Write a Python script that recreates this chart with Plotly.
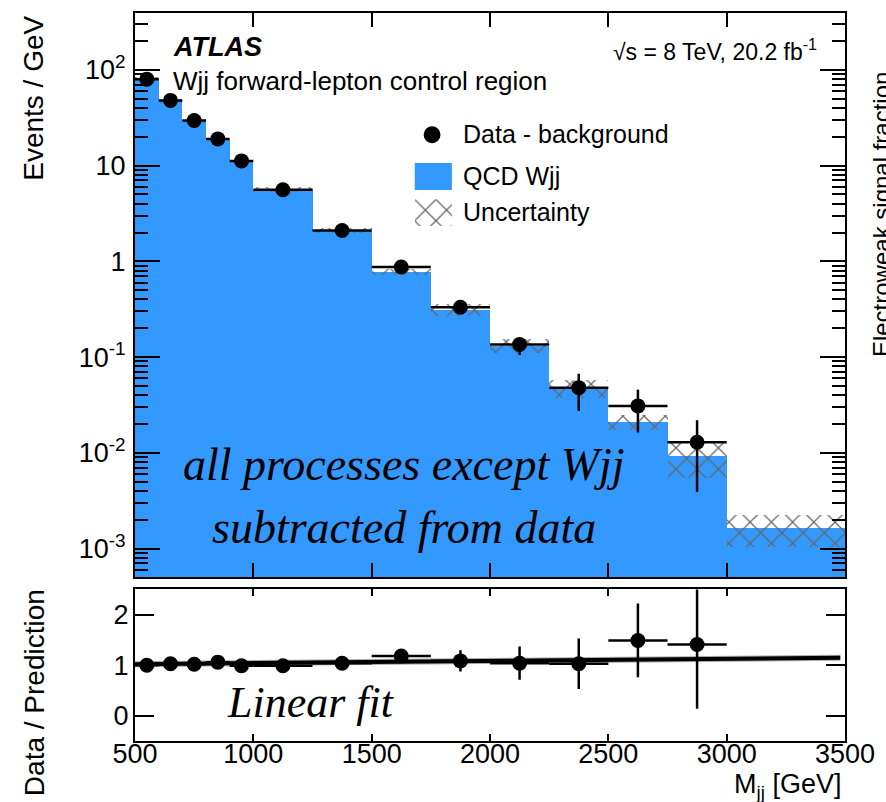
import numpy as np
import plotly.graph_objects as go

# ---------------- data ----------------
bin_edges = [500, 600, 700, 800, 900, 1000, 1250, 1500, 1750, 2000, 2250, 2500, 2750, 3000, 3500]
qcd_wjj = [81, 47.5, 29.9, 18.4, 11.2, 5.58, 2.09, 0.774, 0.314, 0.132, 0.0472, 0.021, 0.0093, 0.00164]
qcd_unc = [4.0, 2.4, 1.5, 0.9, 0.55, 0.33, 0.12, 0.06, 0.043, 0.023, 0.010, 0.0036, 0.0038, 0.0006]
data_sub = [80, 48, 29.6, 19.0, 11.2, 5.6, 2.1, 0.873, 0.332, 0.1355, 0.0479, 0.0309, 0.0129]
data_err_up = [2.0, 1.2, 0.8, 0.6, 0.4, 0.2, 0.12, 0.07, 0.03, 0.0175, 0.019, 0.0148, 0.009]
data_err_dn = [2.0, 1.2, 0.8, 0.6, 0.4, 0.2, 0.12, 0.07, 0.03, 0.0305, 0.0205, 0.0146, 0.009]
ratio = [1.0, 1.03, 1.02, 1.06, 0.99, 0.99, 1.04, 1.18, 1.085, 1.04, 1.03, 1.49, 1.41]
ratio_err = [0.03, 0.03, 0.03, 0.04, 0.04, 0.04, 0.06, 0.08, 0.21, 0.33, 0.50, 0.73, 1.27]
fit_intercept = 0.998
fit_slope = 4.33e-5
fit_range = [500, 3480]
y_tickvals = [1e-3, 1e-2, 1e-1, 1, 10, 100]
y_ticktext = ["10<sup>-3</sup>", "10<sup>-2</sup>", "10<sup>-1</sup>", "1", "10", "10<sup>2</sup>"]
x_tickvals = [500, 1000, 1500, 2000, 2500, 3000, 3500]
r_tickvals = [0, 1, 2]

# ---------------- derived ----------------
edges = np.array(bin_edges, dtype=float)
centers = 0.5 * (edges[:-1] + edges[1:])
widths = edges[1:] - edges[:-1]
nd = len(data_sub)
BASE = 1e-6

W, H = 886, 802
L, R, T, B = 135, 852, 11, 741
PW, PH = R - L, B - T

def px(x):
    return (x - L) / PW

def py(y):
    return (B - y) / PH

FONT = "Liberation Sans, Arial, Helvetica, sans-serif"
SERIF = "Liberation Serif, Times New Roman, serif"
BLUE = "#3399ff"
HATCH = "#666666"

pattern = dict(shape="x", fgcolor=HATCH, fgopacity=1, bgcolor="rgba(0,0,0,0)",
               size=15, solidity=0.16, fillmode="overlay")

fig = go.Figure()

# QCD Wjj histogram
fig.add_trace(go.Bar(
    x=centers, y=np.array(qcd_wjj) - BASE, base=[BASE] * len(qcd_wjj), width=widths,
    marker=dict(color=BLUE, line=dict(width=0)), xaxis="x", yaxis="y", showlegend=False))
# uncertainty band
qw = np.array(qcd_wjj); qu = np.array(qcd_unc)
fig.add_trace(go.Bar(
    x=centers, y=2 * qu, base=qw - qu, width=widths,
    marker=dict(color="rgba(0,0,0,0)", line=dict(width=0), pattern=pattern),
    xaxis="x", yaxis="y", showlegend=False))
# data - background
fig.add_trace(go.Scatter(
    x=centers[:nd], y=data_sub, mode="markers",
    marker=dict(color="black", size=15),
    error_y=dict(type="data", symmetric=False, array=data_err_up, arrayminus=data_err_dn,
                 thickness=2.5, width=0, color="black"),
    error_x=dict(type="data", array=widths[:nd] / 2, thickness=2.5, width=0, color="black"),
    xaxis="x", yaxis="y", showlegend=False))

# ratio panel: fit line
fx = np.array(fit_range, dtype=float)
fig.add_trace(go.Scatter(
    x=fx, y=fit_intercept + fit_slope * fx, mode="lines",
    line=dict(color="rgba(90,90,90,0.5)", width=6),
    xaxis="x2", yaxis="y2", showlegend=False, hoverinfo="skip"))
fig.add_trace(go.Scatter(
    x=fx, y=fit_intercept + fit_slope * fx, mode="lines",
    line=dict(color="black", width=4),
    xaxis="x2", yaxis="y2", showlegend=False))
fig.add_trace(go.Scatter(
    x=centers[:nd], y=ratio, mode="markers",
    marker=dict(color="black", size=15),
    error_y=dict(type="data", array=ratio_err, thickness=2.5, width=0, color="black"),
    error_x=dict(type="data", array=widths[:nd] / 2, thickness=2.5, width=0, color="black"),
    xaxis="x2", yaxis="y2", showlegend=False, cliponaxis=True))

# legend hatch key (own tiny axes)
fig.add_trace(go.Bar(
    x=[0.5], y=[1], width=[1],
    marker=dict(color="rgba(0,0,0,0)", line=dict(width=0), pattern=pattern),
    xaxis="x3", yaxis="y3", showlegend=False, hoverinfo="skip"))

# minor log ticks
minor_vals = [m * 10.0 ** k for k in range(-4, 3) for m in range(2, 10)]

axis_common = dict(showline=True, linewidth=2, linecolor="black", mirror="allticks",
                   ticks="inside", tickwidth=2, tickcolor="black", showgrid=False, zeroline=False,
                   tickfont=dict(family=FONT, size=27, color="black"))

up_dom_bot = py(577)
lo_dom_top = py(589)

fig.update_layout(
    width=W, height=H,
    margin=dict(l=L, r=W - R, t=T, b=H - B),
    paper_bgcolor="white", plot_bgcolor="white",
    barmode="overlay", bargap=0,
    showlegend=False,
    xaxis=dict(axis_common, domain=[0, 1], range=[500, 3500], anchor="y",
               tickmode="array", tickvals=x_tickvals, ticklen=14, showticklabels=False),
    yaxis=dict(axis_common, domain=[up_dom_bot, 1], type="log",
               range=[-3.302, 2.594], anchor="x",
               tickmode="array", tickvals=y_tickvals, ticktext=y_ticktext, ticklen=25,
               ticklabelstandoff=2,
               minor=dict(tickmode="array", tickvals=minor_vals, ticks="inside", ticklen=13,
                          tickwidth=2, tickcolor="black")),
    xaxis2=dict(axis_common, domain=[0, 1], range=[500, 3500], anchor="y2", matches="x",
                tickmode="array", tickvals=x_tickvals, ticklen=7, ticklabelstandoff=-12),
    yaxis2=dict(axis_common, domain=[0, lo_dom_top], range=[-0.5, 2.5], anchor="x2",
                tickmode="array", tickvals=r_tickvals, ticklen=19, ticklabelstandoff=-1),
    xaxis3=dict(domain=[px(417.5), px(455)], range=[0, 1], visible=False, fixedrange=True, anchor="y3"),
    yaxis3=dict(domain=[py(225), py(198)], range=[0, 1], visible=False, fixedrange=True, anchor="x3"),
)

# legend keys
fig.add_shape(type="circle", xref="paper", yref="paper",
              x0=px(435 - 8.5), x1=px(435 + 8.5), y0=py(133 + 8.5), y1=py(133 - 8.5),
              fillcolor="black", line=dict(width=0))
fig.add_shape(type="rect", xref="paper", yref="paper",
              x0=px(417.5), x1=px(455), y0=py(188.5), y1=py(161.5),
              fillcolor=BLUE, line=dict(width=0))

def ann(text, x, y, size, xanchor="left", yanchor="middle", family=FONT, angle=0, **kw):
    fig.add_annotation(text=text, xref="paper", yref="paper", x=px(x), y=py(y),
                       xanchor=xanchor, yanchor=yanchor, showarrow=False, textangle=angle,
                       font=dict(family=family, size=size, color="black"), **kw)

ann("Data - background", 464, 132, 25)
ann("QCD Wjj", 464, 174, 25)
ann("Uncertainty", 464, 211, 25)
ann("<b><i>ATLAS</i></b>", 171, 45, 27)
ann("Wjj forward-lepton control region", 171, 79, 26)
ann("√s = 8 TeV, 20.2 fb<sup>-1</sup>", 826, 48, 23, xanchor="right")
ann("<i>all processes except Wjj</i>", 407, 464, 46, xanchor="center", family=SERIF)
ann("<i>subtracted from data</i>", 407, 527, 46, xanchor="center", family=SERIF)
ann("<i>Linear fit</i>", 313, 702, 44, xanchor="center", family=SERIF)
ann("Events / GeV", 33, 96, 28, xanchor="center", angle=-90)
ann("Data / Prediction", 33, 692, 28, xanchor="center", angle=-90)
ann("Electroweak signal fraction", 889, 213, 24, xanchor="center", angle=-90)
ann("M<sub>jj</sub> [GeV]", 850, 786, 27, xanchor="right")

fig.write_html("out.html")
